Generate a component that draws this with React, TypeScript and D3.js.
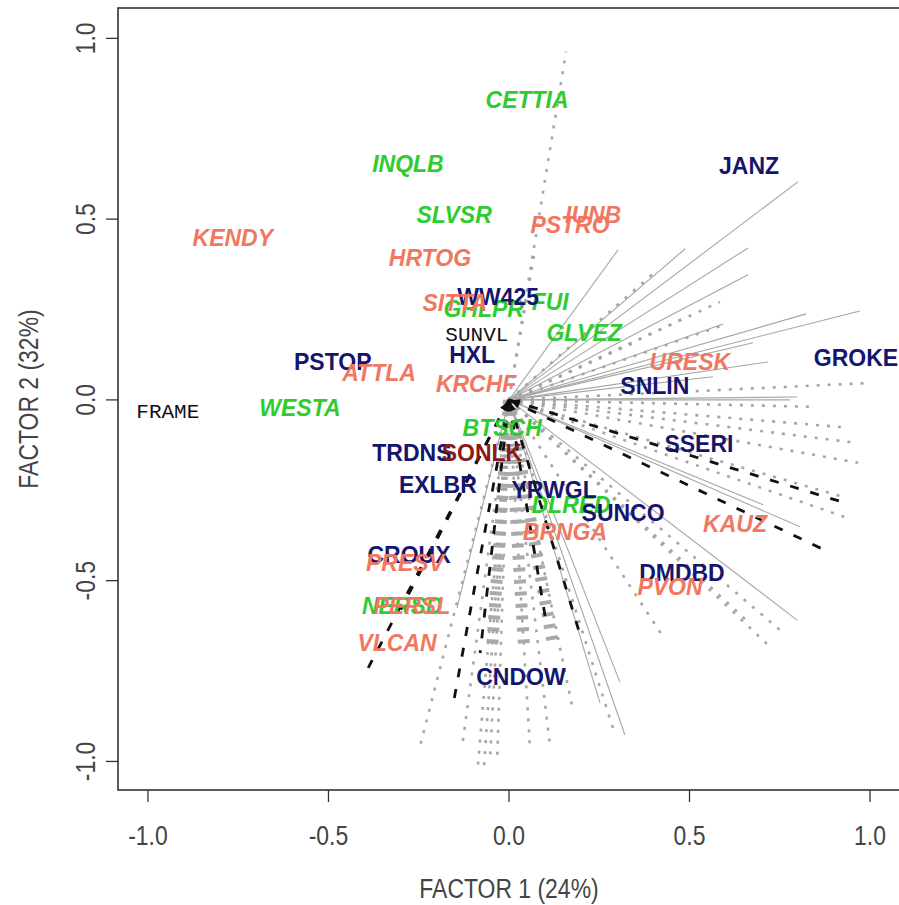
import React from 'react';
import * as d3 from 'd3';

const xTicks = [-1, -0.5, 0, 0.5, 1];
const yTicks = [-1, -0.5, 0, 0.5, 1];

// vector end points (factor 1, factor 2)
const solidEnds: [number, number][] = [
  [0.8, 0.603], [0.662, 0.42], [0.488, 0.418], [0.302, 0.415], [0.662, 0.346],
  [0.972, 0.246], [0.823, 0.238], [0.593, 0.21], [0.676, 0.158], [0.717, 0.105],
  [0.565, 0.064], [0.798, 0.008], [0.778, 0.0], [0.806, -0.351], [0.704, -0.29],
  [0.798, -0.609], [0.321, -0.927], [0.307, -0.78], [0.252, -0.838], [-0.144, -0.575],
];

const dottedEnds: [number, number][] = [
  [0.158, 0.963], [0.584, 0.271], [0.4, 0.35], [0.072, 0.415], [0.493, 0.23],
  [0.593, 0.207], [0.35, 0.16], [1.0, 0.047], [0.842, -0.019], [0.92, -0.075],
  [0.964, -0.119], [0.967, -0.174], [0.925, -0.268], [0.93, -0.324],
  [0.75, -0.636], [0.723, -0.683], [0.662, -0.614], [0.427, -0.656],
  [-0.247, -0.96], [-0.13, -0.96], [-0.086, -1.01], [-0.069, -1.01], [-0.053, -1.0],
  [-0.033, -1.0], [0.058, -0.96], [0.114, -0.96], [0.177, -0.858], [0.294, -0.927],
];

const heavyEnds: [number, number][] = [
  [-0.047, -0.69], [0.042, -0.69], [0.122, -0.678],
];

const dashedEnds: [number, number][] = [
  [0.922, -0.282], [0.884, -0.42], [-0.39, -0.741], [-0.3, -0.58],
  [-0.155, -0.844], [-0.08, -0.7], [0.105, -0.628], [0.197, -0.65],
];

// labels: [text, factor 1, factor 2]
const greenLabels: [string, number, number][] = [
  ['CETTIA', 0.05, 0.83], ['INQLB', -0.28, 0.653], ['SLVSR', -0.152, 0.512],
  ['GHLPR', -0.07, 0.252], ['FUI', 0.114, 0.271], ['GLVEZ', 0.208, 0.185],
  ['WESTA', -0.579, -0.022], ['BTSCH', -0.019, -0.077], ['DLRED', 0.172, -0.29],
  ['NERSD', -0.296, -0.57],
];
const navyLabels: [string, number, number][] = [
  ['JANZ', 0.665, 0.647], ['GROKE', 0.961, 0.116], ['SNLIN', 0.404, 0.039],
  ['SSERI', 0.526, -0.122], ['SUNCO', 0.316, -0.313], ['DMDBD', 0.479, -0.479],
  ['CNDOW', 0.033, -0.766], ['YRWGL', 0.125, -0.249], ['EXLBR', -0.197, -0.235],
  ['TRDNS', -0.269, -0.147], ['PSTOP', -0.488, 0.105], ['HXL', -0.102, 0.124],
  ['WW425', -0.03, 0.285], ['CROUX', -0.277, -0.429],
];
const salmonLabels: [string, number, number][] = [
  ['KENDY', -0.765, 0.448], ['HRTOG', -0.219, 0.393], ['IUNB', 0.233, 0.512],
  ['PSTRO', 0.169, 0.484], ['SITTA', -0.15, 0.268], ['ATTLA', -0.36, 0.075],
  ['KRCHF', -0.091, 0.044], ['URESK', 0.501, 0.105], ['KAUZ', 0.626, -0.343],
  ['BRNGA', 0.155, -0.365], ['PRESV', -0.288, -0.451], ['PERSL', -0.269, -0.57],
  ['VLCAN', -0.31, -0.672], ['PVON', 0.446, -0.517],
];
const darkredLabels: [string, number, number][] = [['SONLK', -0.075, -0.147]];
const blackLabels: [string, number, number][] = [['FRAME', -0.945, -0.036], ['SUNVL', -0.089, 0.177]];

export default function App() {
  const W = 899, H = 905;
  const L = 118, R = 900, T = 8, B = 790;
  const x = d3.scaleLinear().domain([-1.083, 1.083]).range([L, R]);
  const y = d3.scaleLinear().domain([-1.079, 1.084]).range([B, T]);
  const line = d3.line<[number, number]>().x(d => x(d[0])).y(d => y(d[1]));
  const seg = (e: [number, number]) => line([[0, 0], e]) as string;
  const sans = "'Liberation Sans', Arial, sans-serif";

  const label = (arr: [string, number, number][], color: string, italic: boolean, key: string) =>
    arr.map((d, i) => (
      <text key={key + i} x={x(d[1])} y={y(d[2])} textAnchor="middle" dominantBaseline="central"
        fill={color} fontFamily={sans} fontWeight="bold" fontStyle={italic ? 'italic' : 'normal'} fontSize={23}>
        {d[0]}
      </text>
    ));

  const arrowHeads = dashedEnds.map((e, i) => {
    const ang = Math.atan2(y(e[1]) - y(0), x(e[0]) - x(0));
    const ox = x(0), oy = y(0);
    const tip = [ox + Math.cos(ang) * 2, oy + Math.sin(ang) * 2];
    const bx = ox + Math.cos(ang) * 11, by = oy + Math.sin(ang) * 11;
    const px = -Math.sin(ang) * 4, py = Math.cos(ang) * 4;
    return <path key={'ah' + i} d={`M${tip[0]},${tip[1]}L${bx + px},${by + py}L${bx - px},${by - py}Z`} fill="#111" />;
  });

  return (
    <svg width={W} height={H} style={{ position: 'absolute', left: 0, top: 0, background: '#fff' }}>
      <rect x={0} y={0} width={W} height={H} fill="#fff" />
      <defs>
        <clipPath id="plotclip"><rect x={L} y={T} width={R - L} height={B - T} /></clipPath>
      </defs>
      <g clipPath="url(#plotclip)">
        {heavyEnds.map((e, i) => (
          <path key={'h' + i} d={seg(e)} stroke="#aaa" strokeWidth={12} strokeDasharray="4 8" fill="none" />
        ))}
        {solidEnds.map((e, i) => (
          <path key={'s' + i} d={seg(e)} stroke="#a6a6a6" strokeWidth={1.1} fill="none" />
        ))}
        {dottedEnds.map((e, i) => (
          <path key={'d' + i} d={seg(e)} stroke="#a6a6a6" strokeWidth={2.6} strokeDasharray="3 8" fill="none" />
        ))}
        {dashedEnds.map((e, i) => (
          <path key={'b' + i} d={seg(e)} stroke="#111" strokeWidth={2.8} strokeDasharray="9 12" fill="none" />
        ))}
        {arrowHeads}
        {label(greenLabels, '#2fcc2f', true, 'g')}
        {label(navyLabels, '#15156e', false, 'n')}
        {label(salmonLabels, '#f07860', true, 'r')}
        {label(darkredLabels, '#8b1a1a', false, 'dr')}
        {blackLabels.map((d, i) => (
          <text key={'k' + i} x={x(d[1])} y={y(d[2])} textAnchor="middle" dominantBaseline="central"
            fill="#111" fontFamily="'Liberation Mono', 'Courier New', monospace" fontSize={21}>
            {d[0]}
          </text>
        ))}
      </g>
      <rect x={L} y={T} width={R - L} height={B - T} fill="none" stroke="#333" strokeWidth={1.6} />
      {xTicks.map(t => (
        <g key={'xt' + t}>
          <line x1={x(t)} x2={x(t)} y1={B} y2={B + 12} stroke="#333" strokeWidth={1.3} />
          <text transform={`translate(${x(t)},835) scale(0.85,1)`} textAnchor="middle" dominantBaseline="central"
            fontFamily={sans} fontSize={27} fill="#444">{t.toFixed(1)}</text>
        </g>
      ))}
      {yTicks.map(t => (
        <g key={'yt' + t}>
          <line x1={L - 12} x2={L} y1={y(t)} y2={y(t)} stroke="#333" strokeWidth={1.3} />
          <text transform={`translate(85,${y(t)}) rotate(-90) scale(0.85,1)`} textAnchor="middle" dominantBaseline="central"
            fontFamily={sans} fontSize={27} fill="#444">{t.toFixed(1)}</text>
        </g>
      ))}
      <text transform={`translate(${(L + R) / 2},888) scale(0.85,1)`} textAnchor="middle" dominantBaseline="central"
        fontFamily={sans} fontSize={27} fill="#444">FACTOR 1 (24%)</text>
      <text transform={`translate(28,${(T + B) / 2}) rotate(-90) scale(0.85,1)`} textAnchor="middle" dominantBaseline="central"
        fontFamily={sans} fontSize={27} fill="#444">FACTOR 2 (32%)</text>
    </svg>
  );
}
